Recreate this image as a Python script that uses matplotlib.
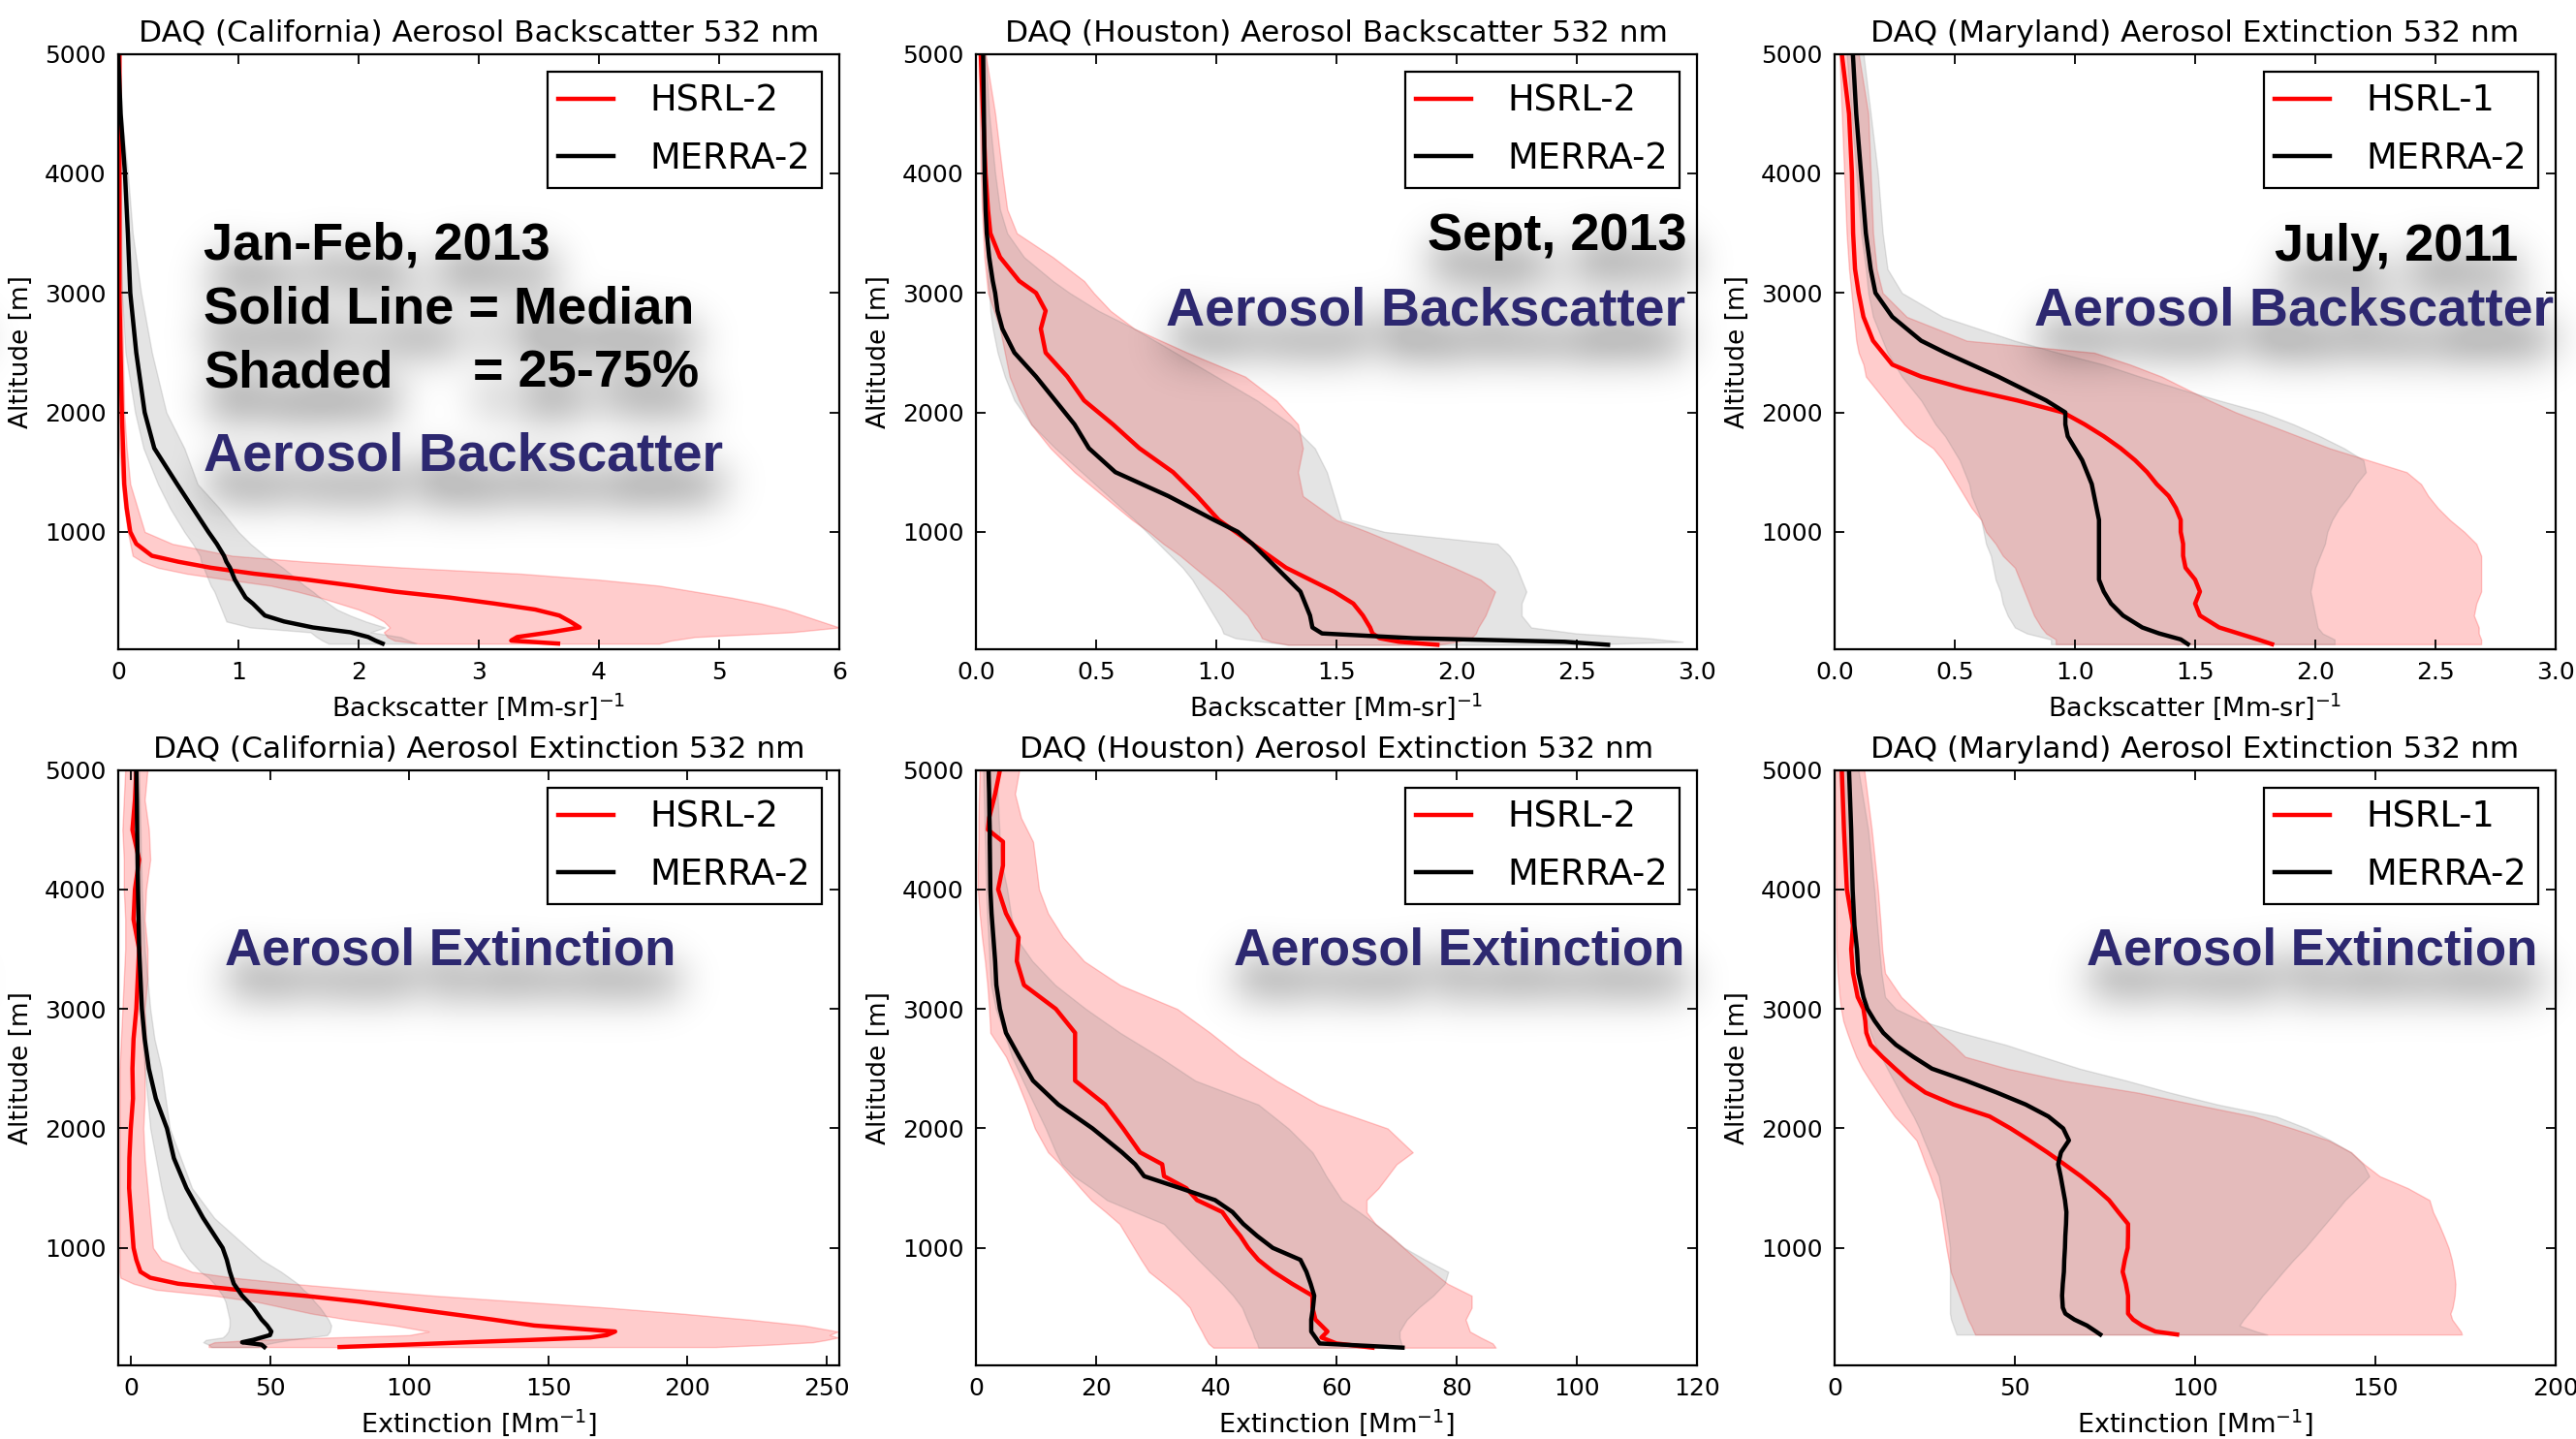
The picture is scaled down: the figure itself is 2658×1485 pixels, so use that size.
import numpy as np
import matplotlib
matplotlib.use("Agg")
import matplotlib.pyplot as plt

# ---------- California, backscatter (Mm-sr)^-1 ----------
ca_bsc_alt = [5000, 4500, 4000, 3500, 3000, 2500, 2000, 1700, 1400, 1200, 1000, 900, 800, 750, 700,
              650, 600, 550, 500, 450, 400, 350, 300, 250, 200, 160, 120, 90, 65]
ca_bsc_hsrl = [0.01, 0.01, 0.01, 0.01, 0.01, 0.02, 0.03, 0.04, 0.05, 0.07, 0.10, 0.15, 0.28, 0.50, 0.77,
               1.13, 1.57, 1.95, 2.30, 2.76, 3.13, 3.47, 3.67, 3.76, 3.84, 3.60, 3.32, 3.27, 3.66]
ca_bsc_hsrl_lo = [0, 0, 0, 0, 0, 0, 0, 0.01, 0.03, 0.05, 0.08, 0.10, 0.12, 0.20, 0.33,
                  0.57, 0.91, 1.27, 1.49, 1.68, 1.84, 2.0, 2.12, 2.21, 2.26, 2.21, 2.24, 2.3, 2.5]
ca_bsc_hsrl_hi = [0.02, 0.02, 0.02, 0.025, 0.03, 0.04, 0.05, 0.07, 0.10, 0.16, 0.22, 0.45, 0.95, 1.57, 2.4,
                  3.35, 4.0, 4.5, 4.8, 5.1, 5.35, 5.55, 5.7, 5.85, 6.0, 5.6, 4.8, 4.6, 4.5]
ca_bsc_merra = [0.0, 0.02, 0.056, 0.08, 0.10, 0.15, 0.22, 0.30, 0.49, 0.62, 0.75, 0.82, 0.88, 0.90, 0.93,
                0.95, 0.97, 1.0, 1.03, 1.06, 1.12, 1.17, 1.22, 1.38, 1.62, 1.93, 2.08, 2.14, 2.2]
ca_bsc_merra_lo = [0, 0, 0, 0.01, 0.03, 0.06, 0.14, 0.21, 0.33, 0.43, 0.55, 0.62, 0.68, 0.69, 0.71,
                   0.73, 0.75, 0.77, 0.80, 0.82, 0.84, 0.86, 0.88, 0.90, 1.1, 1.6, 1.65, 1.7, 1.75]
ca_bsc_merra_hi = [0.01, 0.03, 0.08, 0.12, 0.19, 0.28, 0.40, 0.55, 0.66, 0.84, 1.0, 1.10, 1.22, 1.30, 1.37,
                   1.43, 1.49, 1.55, 1.62, 1.68, 1.75, 1.82, 1.93, 2.06, 2.22, 2.1, 2.35, 2.42, 2.48]

# ---------- Houston, backscatter ----------
hou_bsc_alt = [5000, 4500, 4000, 3700, 3500, 3300, 3100, 3000, 2850, 2700, 2500, 2300, 2100, 1900, 1700,
               1500, 1300, 1100, 1000, 900, 800, 700, 600, 500, 400, 300, 200, 150, 110, 80, 55]
hou_bsc_hsrl = [0.02, 0.03, 0.04, 0.05, 0.06, 0.10, 0.18, 0.25, 0.29, 0.27, 0.29, 0.38, 0.45, 0.57, 0.68,
                0.82, 0.92, 1.01, 1.08, 1.15, 1.22, 1.29, 1.39, 1.49, 1.57, 1.61, 1.64, 1.65, 1.68, 1.76, 1.92]
hou_bsc_hsrl_lo = [0.01, 0.015, 0.02, 0.025, 0.03, 0.035, 0.045, 0.05, 0.075, 0.10, 0.12, 0.14, 0.18, 0.23, 0.31,
                   0.41, 0.53, 0.65, 0.72, 0.78, 0.85, 0.91, 0.97, 1.03, 1.08, 1.13, 1.16, 1.18, 1.19, 1.23, 1.3]
hou_bsc_hsrl_hi = [0.04, 0.08, 0.11, 0.13, 0.17, 0.32, 0.45, 0.49, 0.56, 0.66, 0.88, 1.12, 1.25, 1.34, 1.36,
                   1.34, 1.36, 1.5, 1.63, 1.75, 1.87, 1.99, 2.1, 2.16, 2.14, 2.12, 2.09, 2.08, 2.06, 2.0, 1.92]
hou_bsc_merra = [0.03, 0.033, 0.036, 0.04, 0.045, 0.055, 0.07, 0.08, 0.09, 0.11, 0.16, 0.25, 0.33, 0.41, 0.47,
                 0.58, 0.80, 0.99, 1.09, 1.15, 1.20, 1.25, 1.30, 1.35, 1.37, 1.39, 1.40, 1.44, 1.82, 2.45, 2.63]
hou_bsc_merra_lo = [0.015, 0.02, 0.03, 0.035, 0.04, 0.045, 0.05, 0.055, 0.06, 0.07, 0.09, 0.12, 0.16, 0.23, 0.33,
                    0.44, 0.55, 0.66, 0.71, 0.76, 0.81, 0.86, 0.90, 0.93, 0.96, 0.99, 1.02, 1.03, 1.08, 1.2, 1.3]
hou_bsc_merra_hi = [0.04, 0.055, 0.08, 0.10, 0.13, 0.20, 0.32, 0.39, 0.51, 0.66, 0.83, 1.0, 1.17, 1.31, 1.41,
                    1.46, 1.49, 1.52, 1.70, 2.17, 2.22, 2.25, 2.27, 2.29, 2.27, 2.27, 2.31, 2.5, 2.8, 2.94, 2.5]

# ---------- Maryland, backscatter ----------
md_bsc_alt = [5000, 4500, 4000, 3500, 3200, 3000, 2800, 2600, 2500, 2400, 2300, 2200, 2100, 2000, 1900,
              1800, 1700, 1600, 1500, 1400, 1300, 1200, 1100, 1000, 900, 800, 700, 600, 500, 400, 300, 200,
              150, 100, 60]
md_bsc_hsrl = [0.03, 0.06, 0.072, 0.077, 0.085, 0.10, 0.12, 0.16, 0.20, 0.24, 0.36, 0.54, 0.76, 0.95, 1.04,
               1.12, 1.19, 1.25, 1.30, 1.34, 1.39, 1.42, 1.44, 1.44, 1.45, 1.45, 1.46, 1.50, 1.52, 1.50, 1.52,
               1.60, 1.68, 1.76, 1.82]
md_bsc_hsrl_lo = [0.02, 0.03, 0.04, 0.05, 0.06, 0.07, 0.08, 0.09, 0.10, 0.12, 0.13, 0.17, 0.21, 0.25, 0.29,
                  0.34, 0.41, 0.45, 0.48, 0.51, 0.54, 0.57, 0.61, 0.63, 0.67, 0.70, 0.75, 0.77, 0.79, 0.81, 0.83,
                  0.86, 0.88, 0.92, 0.92]
md_bsc_hsrl_hi = [0.10, 0.14, 0.15, 0.16, 0.175, 0.20, 0.30, 0.55, 1.08, 1.23, 1.36, 1.46, 1.56, 1.67, 1.80,
                  1.93, 2.06, 2.22, 2.38, 2.44, 2.47, 2.51, 2.56, 2.62, 2.67, 2.69, 2.69, 2.69, 2.69, 2.67, 2.66,
                  2.68, 2.68, 2.69, 2.69]
md_bsc_merra = [0.076, 0.09, 0.11, 0.13, 0.15, 0.17, 0.24, 0.36, 0.46, 0.57, 0.68, 0.78, 0.88, 0.96, 0.96,
                0.97, 1.0, 1.03, 1.05, 1.07, 1.08, 1.09, 1.10, 1.10, 1.10, 1.10, 1.10, 1.10, 1.12, 1.15, 1.20,
                1.28, 1.35, 1.44, 1.47]
md_bsc_merra_lo = [0.05, 0.07, 0.09, 0.11, 0.13, 0.14, 0.16, 0.20, 0.22, 0.25, 0.28, 0.32, 0.36, 0.39, 0.42,
                   0.46, 0.49, 0.52, 0.54, 0.56, 0.57, 0.59, 0.61, 0.62, 0.63, 0.65, 0.66, 0.67, 0.69, 0.70, 0.72,
                   0.75, 0.80, 0.90, 0.90]
md_bsc_merra_hi = [0.12, 0.15, 0.18, 0.20, 0.22, 0.28, 0.45, 0.75, 0.93, 1.12, 1.27, 1.43, 1.60, 1.78, 1.91,
                   2.02, 2.12, 2.20, 2.21, 2.17, 2.14, 2.10, 2.07, 2.05, 2.04, 2.02, 2.0, 1.99, 1.98, 1.99, 2.0,
                   2.01, 2.03, 2.08, 2.08]

# ---------- California, extinction (Mm^-1) ----------
ca_ext_alt = [5000, 4750, 4500, 4250, 4000, 3750, 3500, 3250, 3000, 2750, 2500, 2250, 2000, 1750, 1500,
              1250, 1000, 900, 800, 750, 700, 650, 600, 550, 500, 450, 400, 350, 300, 270, 250, 230, 210,
              190, 170]
ca_ext_hsrl = [2, 1.5, 0.6, 3, 1.5, 1, 3, 2.5, 2, 1, 0.6, 0.8, 0, -0.5, -0.6,
               0.2, 1, 2, 3.5, 7, 17, 38, 62, 82, 98, 114, 130, 145, 174, 171, 165, 144, 121, 99, 75]
ca_ext_hsrl_lo = [-2, -2.5, -3, -2.5, -2.5, -2, -2, -2.5, -3, -3.5, -4, -4, -4, -4, -4,
                  -4, -4, -4, -4, -3.7, 1, 9, 30, 45, 55, 65, 78, 95, 107, 100, 72, 45, 30, 28, 28]
ca_ext_hsrl_hi = [6, 5, 6.5, 7, 5.5, 5, 6, 6, 5, 5.5, 5, 5, 4.5, 5, 6,
                  7, 8, 11, 22, 37, 58, 83, 109, 140, 171, 198, 222, 242, 254, 251, 254, 250, 245, 230, 210]
ca_ext_merra = [2, 2.2, 2.3, 2.45, 2.6, 2.8, 3, 3.5, 4, 5, 6.5, 9, 13, 15.5, 20,
                26, 33, 34.5, 35.6, 36.3, 37, 38.5, 40, 42, 44, 45.5, 47, 49, 50.5, 50, 47, 44, 40, 47, 48]
ca_ext_merra_lo = [1, 1.2, 1.5, 1.7, 2, 2.2, 2.5, 3, 3.5, 4.2, 5, 6, 7, 9, 11,
                   13.5, 18, 21, 25, 28, 30, 31.5, 33, 34, 34.5, 35, 35.5, 35.5, 35, 34, 33, 27, 26, 28, 29]
ca_ext_merra_hi = [3, 3.2, 3.5, 3.7, 4, 4.5, 5, 6, 7, 8.5, 11, 12.5, 14, 18, 22,
                   30, 42, 47, 54, 57, 60, 62, 64.5, 66, 68, 69.5, 71, 72, 71.5, 70.5, 64, 57, 52, 48, 46]

# ---------- Houston, extinction ----------
hou_ext_alt = [5000, 4800, 4600, 4500, 4400, 4200, 4000, 3800, 3600, 3400, 3200, 3000, 2800, 2600, 2400,
               2200, 2000, 1800, 1700, 1600, 1500, 1400, 1300, 1200, 1100, 1000, 900, 800, 700, 600, 500,
               400, 300, 250, 200, 165]
hou_ext_hsrl = [4, 3.2, 2.2, 2.0, 4.5, 4.5, 3.7, 5, 7.1, 6.8, 8, 13.3, 16.5, 16.5, 16.5,
                21.5, 24.5, 27.3, 31, 31.3, 35, 36.8, 41, 42.4, 44, 45.3, 47, 49.5, 52.6, 56, 56,
                56.5, 58.5, 57.5, 60, 66]
hou_ext_hsrl_lo = [0.6, 0.5, 0.4, 0.4, 0.4, 0.3, 0.3, 0.6, 1.0, 1.5, 1.9, 2.2, 2.4, 5, 6.8,
                   8.4, 9.8, 12, 14, 15.7, 17.4, 19.2, 21.6, 23.9, 25.1, 26.3, 27.5, 28.8, 31.3, 33.7, 35.6,
                   36.5, 37.6, 38.1, 38.7, 39.5]
hou_ext_hsrl_hi = [7.2, 6.5, 7.5, 8.5, 9.5, 10, 10.5, 12, 14.5, 18, 24, 33.5, 39, 44, 50,
                   57, 68.5, 72.7, 70, 68.5, 67, 65, 65, 66.5, 69, 71.2, 73.5, 76, 78.5, 82.5, 82.5,
                   81.5, 82.2, 84, 86, 86.5]
hou_ext_merra = [2.1, 2.2, 2.25, 2.3, 2.3, 2.35, 2.4, 2.6, 2.9, 3.2, 3.4, 4, 5, 7.2, 9.5,
                 13.7, 19.4, 24.3, 26.5, 28, 34, 39.8, 42.7, 44.5, 46.8, 49.4, 54, 55, 55.7, 56.3, 56.1,
                 55.8, 55.8, 56.5, 57.2, 71]
hou_ext_merra_lo = [1.2, 1.3, 1.4, 1.45, 1.5, 1.6, 1.7, 1.85, 2.05, 2.25, 2.5, 3.3, 4.7, 6, 7.8,
                    9.7, 11.6, 13.3, 14.3, 16.3, 19.2, 21.8, 26.5, 31.3, 33.2, 35.1, 37, 39, 41, 42.8, 44.3,
                    45.1, 46, 46.3, 46.8, 47]
hou_ext_merra_hi = [3.5, 3.6, 3.8, 3.9, 3.95, 4.4, 5.2, 5.8, 6.6, 9.4, 13.2, 18.3, 24, 30.5, 36.5,
                    47, 52, 56, 57.2, 58.3, 59.6, 60.9, 63.8, 66.5, 68.9, 71.3, 74.8, 78.6, 78, 76.1, 73.7,
                    71.7, 70.5, 70.5, 70.8, 71]

# ---------- Maryland, extinction ----------
md_ext_alt = [5000, 4500, 4000, 3700, 3500, 3300, 3100, 3000, 2900, 2800, 2700, 2600, 2500, 2400, 2300,
              2200, 2100, 2000, 1900, 1800, 1700, 1600, 1500, 1400, 1300, 1200, 1100, 1000, 900, 800, 700,
              600, 500, 450, 400, 350, 300, 275]
md_ext_hsrl = [2, 2.6, 3.4, 5.1, 4.6, 5.1, 6.4, 8, 8.5, 8.8, 10, 13.2, 16.8, 20.5, 25.2,
               33, 43, 48.8, 54, 59, 63.7, 68.3, 72.4, 76.1, 78.7, 81.4, 81.4, 81.3, 80.5, 79.9, 80.8,
               81.4, 81.4, 81.4, 82.8, 85.3, 89, 95]
md_ext_hsrl_lo = [0, 0.2, 0.4, 0.45, 0.5, 0.8, 1.4, 1.8, 2.4, 3.5, 4.7, 6, 7.7, 9.8, 12,
                  14.3, 16.7, 19.8, 22.7, 24, 25.2, 26.5, 27.7, 29, 29.5, 30, 30.5, 31, 31.6, 32.2, 33.4,
                  34.6, 35.8, 36.4, 37, 37.9, 38.6, 39]
md_ext_hsrl_hi = [8.2, 10.3, 12, 12.8, 13.2, 14, 18.5, 22, 25.5, 29, 32.8, 36.2, 48, 63.5, 84,
                  100, 116.3, 127, 137, 143.3, 146.9, 151.2, 159, 165, 166, 167.6, 169, 170.3, 171.2, 171.8, 172.2,
                  172, 171.4, 170.8, 171.3, 172.5, 173.7, 174]
md_ext_merra = [4, 4.6, 5, 5.5, 6.2, 6.6, 8, 9.1, 11.1, 13.5, 17, 21.8, 27, 36.4, 45,
                53, 59.3, 63.4, 65, 62.8, 62, 62.7, 63.3, 63.9, 64.3, 64.2, 64, 63.9, 63.7, 63.6, 63.3,
                63.1, 63.3, 64, 66.5, 70, 72.5, 73.7]
md_ext_merra_lo = [1.2, 2.2, 3.3, 4.4, 5.2, 6, 7.5, 8.3, 9.1, 9.9, 11.3, 12.9, 14.6, 16.4, 18.2,
                   20, 21.9, 23.5, 24.8, 26.2, 27.5, 28.9, 29.5, 30, 30.6, 31.1, 31.6, 32, 32, 32, 32,
                   32, 32, 32, 32.3, 32.9, 33.5, 33.8]
md_ext_merra_hi = [6.6, 9.3, 11, 11.8, 12.4, 13, 14, 17, 24, 35, 47.5, 57.6, 68, 81, 93,
                   106.3, 122.5, 131, 137.5, 143.2, 146.6, 148.3, 145, 141.6, 138.9, 136.1, 133.3, 130.5, 127.3, 124.4, 121.6,
                   118.7, 116.2, 114.8, 113.4, 112.3, 117, 120]

bsc_label = "Backscatter [Mm-sr]$^{-1}$"
ext_label = "Extinction [Mm$^{-1}$]"

panels = [
    # (left px, top px, title, xlabel, xlim, xticks, hsrl name, data)
    (122, 55.7, "DAQ (California) Aerosol Backscatter 532 nm", bsc_label, (0, 6), np.arange(0, 7, 1), "HSRL-2",
     (ca_bsc_alt, ca_bsc_hsrl, ca_bsc_hsrl_lo, ca_bsc_hsrl_hi, ca_bsc_merra, ca_bsc_merra_lo, ca_bsc_merra_hi)),
    (1007, 55.7, "DAQ (Houston) Aerosol Backscatter 532 nm", bsc_label, (0, 3), np.arange(0, 3.1, 0.5), "HSRL-2",
     (hou_bsc_alt, hou_bsc_hsrl, hou_bsc_hsrl_lo, hou_bsc_hsrl_hi, hou_bsc_merra, hou_bsc_merra_lo, hou_bsc_merra_hi)),
    (1893, 55.7, "DAQ (Maryland) Aerosol Extinction 532 nm", bsc_label, (0, 3), np.arange(0, 3.1, 0.5), "HSRL-1",
     (md_bsc_alt, md_bsc_hsrl, md_bsc_hsrl_lo, md_bsc_hsrl_hi, md_bsc_merra, md_bsc_merra_lo, md_bsc_merra_hi)),
    (122, 794.6, "DAQ (California) Aerosol Extinction 532 nm", ext_label, (-4.5, 254.5), np.arange(0, 251, 50), "HSRL-2",
     (ca_ext_alt, ca_ext_hsrl, ca_ext_hsrl_lo, ca_ext_hsrl_hi, ca_ext_merra, ca_ext_merra_lo, ca_ext_merra_hi)),
    (1007, 794.6, "DAQ (Houston) Aerosol Extinction 532 nm", ext_label, (0, 120), np.arange(0, 121, 20), "HSRL-2",
     (hou_ext_alt, hou_ext_hsrl, hou_ext_hsrl_lo, hou_ext_hsrl_hi, hou_ext_merra, hou_ext_merra_lo, hou_ext_merra_hi)),
    (1893, 794.6, "DAQ (Maryland) Aerosol Extinction 532 nm", ext_label, (0, 200), np.arange(0, 201, 50), "HSRL-1",
     (md_ext_alt, md_ext_hsrl, md_ext_hsrl_lo, md_ext_hsrl_hi, md_ext_merra, md_ext_merra_lo, md_ext_merra_hi)),
]

# slide annotations: (x px, baseline y px, text, color, size, ha)
NAVY = "#2d2870"
notes = [
    (210, 267, "Jan-Feb, 2013", "black", 39, "left"),
    (210, 333, "Solid Line = Median", "black", 39, "left"),
    (210, 399, "Shaded", "black", 39, "left"),
    (488, 399, "= 25-75%", "black", 39, "left"),
    (210, 486, "Aerosol Backscatter", NAVY, 40, "left"),
    (1741, 258, "Sept, 2013", "black", 39, "right"),
    (1739, 336, "Aerosol Backscatter", NAVY, 40, "right"),
    (2598, 269, "July, 2011", "black", 39, "right"),
    (2635, 336, "Aerosol Backscatter", NAVY, 40, "right"),
    (232, 996, "Aerosol Extinction", NAVY, 38, "left"),
    (1738, 996, "Aerosol Extinction", NAVY, 38, "right"),
    (2618, 996, "Aerosol Extinction", NAVY, 38, "right"),
]

W, H = 2658, 1485
AX_W, AX_H = 744, 614
NOTE_FONT = ["Liberation Sans", "DejaVu Sans"]

fig = plt.figure(figsize=(W / 100.0, H / 100.0), dpi=100)
fig.patch.set_facecolor("white")

for left, top, title, xlabel, xlim, xticks, hsrl_name, data in panels:
    alt, hsrl, hsrl_lo, hsrl_hi, merra, merra_lo, merra_hi = [np.asarray(a, float) for a in data]
    ax = fig.add_axes([left / W, 1 - (top + AX_H) / H, AX_W / W, AX_H / H])

    ax.fill_betweenx(alt, hsrl_lo, hsrl_hi, color="red", alpha=0.2, lw=1)
    ax.fill_betweenx(alt, merra_lo, merra_hi, color="#787878", alpha=0.2, lw=1)
    ax.plot(hsrl, alt, color="red", lw=3.2, label=hsrl_name)
    ax.plot(merra, alt, color="black", lw=3.2, label="MERRA-2")

    ax.set_xlim(*xlim)
    ax.set_xticks(xticks)
    ax.set_ylim(20, 5000)
    ax.set_yticks([1000, 2000, 3000, 4000, 5000])
    ax.tick_params(direction="in", top=True, right=True, length=7, width=1.3,
                   labelsize=18, pad=9)
    for sp in ax.spines.values():
        sp.set_linewidth(1.6)
    ax.set_title(title, fontsize=22.5, pad=9)
    ax.set_xlabel(xlabel, fontsize=19.5, labelpad=5)
    ax.set_ylabel("Altitude [m]", fontsize=19, labelpad=8)

    leg = ax.legend(loc="upper right", fontsize=26.5, fancybox=False, framealpha=1,
                    edgecolor="black", handlelength=1.55, handletextpad=1.0,
                    borderpad=0.32, labelspacing=0.6, borderaxespad=0.5)
    leg.get_frame().set_linewidth(1.6)

# soft drop shadow under the slide annotations: render the texts alone,
# blur the mask and lay it over the plots
sfig = plt.figure(figsize=(W / 100.0, H / 100.0), dpi=100)
for x, y, s, color, size, ha in notes:
    sfig.text(x / W, 1 - y / H, s, color="black", fontsize=size, fontweight="bold",
              family=NOTE_FONT, ha=ha, va="baseline")
sfig.canvas.draw()
mask = 1.0 - np.asarray(sfig.canvas.buffer_rgba())[..., 0].astype(float) / 255.0
plt.close(sfig)

dy, dx = 30, 3
mask = np.roll(np.roll(mask, dy, axis=0), dx, axis=1)
sigma = 21.0
ky = np.fft.fftfreq(H)[:, None]
kx = np.fft.rfftfreq(W)[None, :]
gauss = np.exp(-2 * (np.pi * sigma) ** 2 * (kx ** 2 + ky ** 2))
blur = np.fft.irfft2(np.fft.rfft2(mask) * gauss, s=(H, W))
shade = np.clip(blur * 0.85, 0, 0.25)
img = np.zeros((H, W, 4))
img[..., 3] = shade
fig.figimage(img, 0, 0, origin="upper", zorder=5)

for x, y, s, color, size, ha in notes:
    fig.text(x / W, 1 - y / H, s, color=color, fontsize=size, fontweight="bold",
             family=NOTE_FONT, ha=ha, va="baseline", zorder=10)

fig.savefig("out.png", dpi=100)
